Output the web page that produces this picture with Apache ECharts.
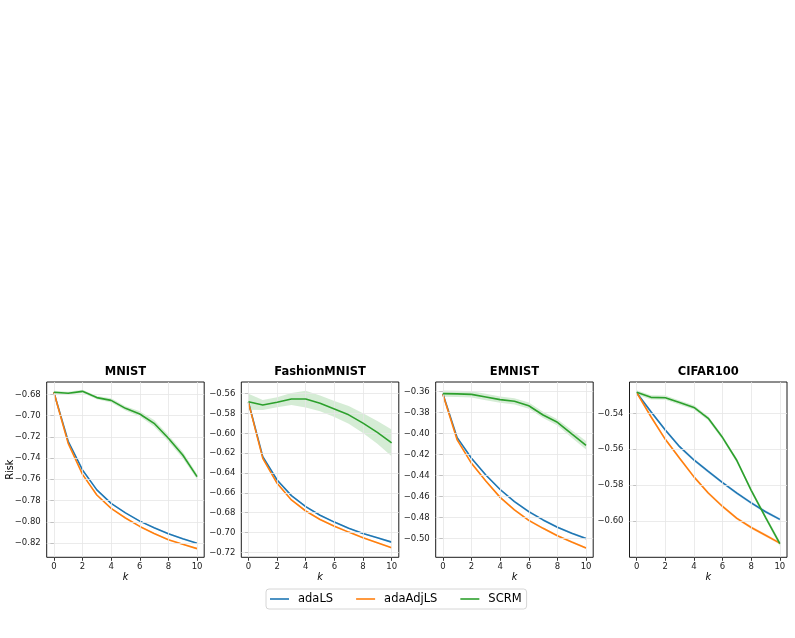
<!DOCTYPE html>
<html><head><meta charset="utf-8">
<script src="https://cdn.jsdelivr.net/npm/echarts@6/dist/echarts.min.js"></script>
<style>html,body{margin:0;padding:0;background:#fff}#c{width:795px;height:638px}</style>
</head><body><div id="c"></div>
<script>
// ---- data ----
const ks = [0, 1, 2, 3, 4, 5, 6, 7, 8, 9, 10];
const titles = ['MNIST', 'FashionMNIST', 'EMNIST', 'CIFAR100'];
const methods = ['adaLS', 'adaAdjLS', 'SCRM'];
const xTicks = [0, 2, 4, 6, 8, 10];

const mnistTicks = [-0.82, -0.80, -0.78, -0.76, -0.74, -0.72, -0.70, -0.68];
const fashionTicks = [-0.72, -0.70, -0.68, -0.66, -0.64, -0.62, -0.60, -0.58, -0.56];
const emnistTicks = [-0.50, -0.48, -0.46, -0.44, -0.42, -0.40, -0.38, -0.36];
const cifarTicks = [-0.60, -0.58, -0.56, -0.54];

const mnistAdaLS    = [-0.6780, -0.7242, -0.7512, -0.7700, -0.7827, -0.7916, -0.7994, -0.8056, -0.8113, -0.8160, -0.8203];
const mnistAdaAdjLS = [-0.6780, -0.7262, -0.7554, -0.7748, -0.7874, -0.7965, -0.8044, -0.8110, -0.8170, -0.8212, -0.8253];
const mnistSCRM     = [-0.6781, -0.6790, -0.6772, -0.6831, -0.6857, -0.6932, -0.6985, -0.7073, -0.7214, -0.7371, -0.7575];
const mnistAdaLSErr    = [0.0004, 0.0006, 0.0006, 0.0006, 0.0006, 0.0006, 0.0006, 0.0006, 0.0006, 0.0006, 0.0006];
const mnistAdaAdjLSErr = [0.0004, 0.0006, 0.0006, 0.0006, 0.0006, 0.0006, 0.0006, 0.0006, 0.0006, 0.0006, 0.0006];
const mnistSCRMErr     = [0.0015, 0.0015, 0.0015, 0.0015, 0.0020, 0.0020, 0.0025, 0.0030, 0.0030, 0.0030, 0.0025];

const fashionAdaLS    = [-0.5685, -0.6235, -0.6470, -0.6628, -0.6739, -0.6826, -0.6895, -0.6957, -0.7010, -0.7053, -0.7097];
const fashionAdaAdjLS = [-0.5690, -0.6252, -0.6504, -0.6672, -0.6783, -0.6869, -0.6936, -0.6996, -0.7053, -0.7103, -0.7153];
const fashionSCRM     = [-0.5681, -0.5714, -0.5687, -0.5654, -0.5654, -0.5697, -0.5754, -0.5813, -0.5897, -0.5990, -0.6095];
const fashionAdaLSErr    = [0.0030, 0.0010, 0.0008, 0.0008, 0.0008, 0.0008, 0.0008, 0.0008, 0.0008, 0.0008, 0.0008];
const fashionAdaAdjLSErr = [0.0030, 0.0010, 0.0008, 0.0008, 0.0008, 0.0008, 0.0008, 0.0008, 0.0008, 0.0008, 0.0008];
const fashionSCRMErr     = [0.0080, 0.0050, 0.0050, 0.0060, 0.0085, 0.0080, 0.0080, 0.0090, 0.0100, 0.0115, 0.0135];

const emnistAdaLS    = [-0.3622, -0.4041, -0.4238, -0.4397, -0.4535, -0.4650, -0.4746, -0.4825, -0.4895, -0.4952, -0.5003];
const emnistAdaAdjLS = [-0.3628, -0.4063, -0.4286, -0.4454, -0.4610, -0.4730, -0.4829, -0.4905, -0.4975, -0.5035, -0.5092];
const emnistSCRM     = [-0.3622, -0.3624, -0.3629, -0.3654, -0.3679, -0.3695, -0.3737, -0.3825, -0.3895, -0.4006, -0.4114];
const emnistAdaLSErr    = [0.0010, 0.0010, 0.0010, 0.0010, 0.0010, 0.0010, 0.0010, 0.0010, 0.0010, 0.0010, 0.0010];
const emnistAdaAdjLSErr = [0.0010, 0.0010, 0.0010, 0.0010, 0.0010, 0.0010, 0.0010, 0.0010, 0.0010, 0.0010, 0.0010];
const emnistSCRMErr     = [0.0030, 0.0030, 0.0030, 0.0030, 0.0030, 0.0030, 0.0030, 0.0030, 0.0030, 0.0035, 0.0040];

const cifarAdaLS    = [-0.5285, -0.5391, -0.5493, -0.5586, -0.5660, -0.5724, -0.5786, -0.5845, -0.5899, -0.5948, -0.5991];
const cifarAdaAdjLS = [-0.5285, -0.5419, -0.5545, -0.5650, -0.5754, -0.5844, -0.5919, -0.5985, -0.6036, -0.6079, -0.6123];
const cifarSCRM     = [-0.5283, -0.5311, -0.5313, -0.5340, -0.5367, -0.5428, -0.5535, -0.5663, -0.5829, -0.5979, -0.6126];
const cifarAdaLSErr    = [0.0008, 0.0008, 0.0008, 0.0008, 0.0008, 0.0008, 0.0008, 0.0008, 0.0008, 0.0008, 0.0008];
const cifarAdaAdjLSErr = [0.0008, 0.0008, 0.0008, 0.0008, 0.0008, 0.0008, 0.0008, 0.0008, 0.0008, 0.0008, 0.0008];
const cifarSCRMErr     = [0.0012, 0.0012, 0.0012, 0.0012, 0.0012, 0.0012, 0.0012, 0.0012, 0.0012, 0.0012, 0.0015];

// ---- layout / style ----
const panels = [
  { ticks: mnistTicks, min: -0.83347, max: -0.66841, means: [mnistAdaLS, mnistAdaAdjLS, mnistSCRM], errs: [mnistAdaLSErr, mnistAdaAdjLSErr, mnistSCRMErr] },
  { ticks: fashionTicks, min: -0.7250, max: -0.5482, means: [fashionAdaLS, fashionAdaAdjLS, fashionSCRM], errs: [fashionAdaLSErr, fashionAdaAdjLSErr, fashionSCRMErr] },
  { ticks: emnistTicks, min: -0.5181, max: -0.3511, means: [emnistAdaLS, emnistAdaAdjLS, emnistSCRM], errs: [emnistAdaLSErr, emnistAdaAdjLSErr, emnistSCRMErr] },
  { ticks: cifarTicks, min: -0.6202, max: -0.52256, means: [cifarAdaLS, cifarAdaAdjLS, cifarSCRM], errs: [cifarAdaLSErr, cifarAdaAdjLSErr, cifarSCRMErr] }
];
const gridLefts = [46.7, 241.3, 435.7, 629.5];
const gridTop = 382, gridW = 157.5, gridH = 175.3;
const colors = ['#1f77b4', '#ff7f0e', '#2ca02c'];
const bandColors = ['rgba(31,119,180,0.2)', 'rgba(255,127,14,0.2)', 'rgba(44,160,44,0.2)'];
const FONT = 'DejaVu Sans';
const minus = s => s.replace('-', '\u2212');

const grid = [], xAxis = [], yAxis = [], title = [], series = [];
panels.forEach((p, i) => {
  grid.push({ left: gridLefts[i], top: gridTop, width: gridW, height: gridH, show: true,
    borderColor: '#000', borderWidth: 0.9, backgroundColor: 'transparent' });
  title.push({ text: titles[i], left: gridLefts[i] + gridW / 2, top: 366, textAlign: 'center', padding: 0,
    textStyle: { fontFamily: FONT, fontSize: 11.5, fontWeight: 'bold', color: '#000' } });
  xAxis.push({ type: 'value', gridIndex: i, min: -0.5, max: 10.5,
    name: 'k', nameLocation: 'middle', nameGap: 13,
    nameTextStyle: { fontFamily: FONT, fontSize: 9.7, fontStyle: 'italic', color: '#000' },
    axisLine: { show: false }, splitLine: { show: false },
    axisTick: { show: true, customValues: xTicks, length: 3.5, lineStyle: { color: '#000', width: 0.8 } },
    axisLabel: { customValues: xTicks, margin: 5, fontFamily: FONT, fontSize: 8.5, color: '#222' } });
  yAxis.push({ type: 'value', gridIndex: i, min: p.min, max: p.max,
    name: i === 0 ? 'Risk' : '', nameLocation: 'middle', nameGap: 31, nameMoveOverlap: false,
    nameTextStyle: { fontFamily: FONT, fontSize: 9.7, color: '#000' },
    axisLine: { show: false }, splitLine: { show: false },
    axisTick: { show: true, customValues: p.ticks, length: 3.5, lineStyle: { color: '#000', width: 0.8 } },
    axisLabel: { customValues: p.ticks, margin: 6, fontFamily: FONT, fontSize: 8.5, color: '#222',
      formatter: v => minus(v.toFixed(2)) } });
  // grid lines
  series.push({ type: 'line', name: 'grid' + i, xAxisIndex: i, yAxisIndex: i, data: [], z: 1,
    markLine: { silent: true, symbol: ['none', 'none'], label: { show: false }, animation: false,
      lineStyle: { color: '#e6e6e6', width: 0.8, type: 'solid' },
      data: xTicks.map(v => ({ xAxis: v })).concat(p.ticks.map(v => ({ yAxis: v }))) } });
  // bands (one polygon per method, built through the axis scales)
  methods.forEach((m, j) => {
    const bandData = ks.map((k, t) => [k, p.means[j][t] - p.errs[j][t], p.means[j][t] + p.errs[j][t]]);
    series.push({ type: 'custom', name: 'band' + i + '_' + j, xAxisIndex: i, yAxisIndex: i, z: 2, silent: true,
      data: bandData, encode: { x: 0, y: [1, 2] },
      renderItem: (params, api) => {
        if (params.dataIndex !== 0) return null;
        const pts = [];
        for (let t = 0; t < bandData.length; t++) pts.push(api.coord([bandData[t][0], bandData[t][2]]));
        for (let t = bandData.length - 1; t >= 0; t--) pts.push(api.coord([bandData[t][0], bandData[t][1]]));
        return { type: 'polygon', shape: { points: pts }, style: { fill: bandColors[j], stroke: null } };
      } });
  });
  methods.forEach((m, j) => {
    series.push({ type: 'line', name: m, xAxisIndex: i, yAxisIndex: i,
      data: ks.map((k, t) => [k, p.means[j][t]]), symbol: 'none', color: colors[j],
      lineStyle: { color: colors[j], width: 1.6 }, z: 3 + j });
  });
});

const chart = echarts.init(document.getElementById('c'), null, { renderer: 'canvas' });
chart.setOption({
  animation: false,
  backgroundColor: '#fff',
  title, grid, xAxis, yAxis, series,
  legend: {
    data: methods, left: 266, top: 589, orient: 'horizontal',
    icon: 'rect', itemWidth: 19, itemHeight: 1.6, itemGap: 23,
    padding: [4, 5, 4, 4], borderColor: '#cccccc', borderWidth: 0.8, borderRadius: 3,
    backgroundColor: '#fff',
    textStyle: { fontFamily: FONT, fontSize: 11.5, color: '#000', padding: [0, 0, 0, 4] }
  }
});
</script></body></html>
